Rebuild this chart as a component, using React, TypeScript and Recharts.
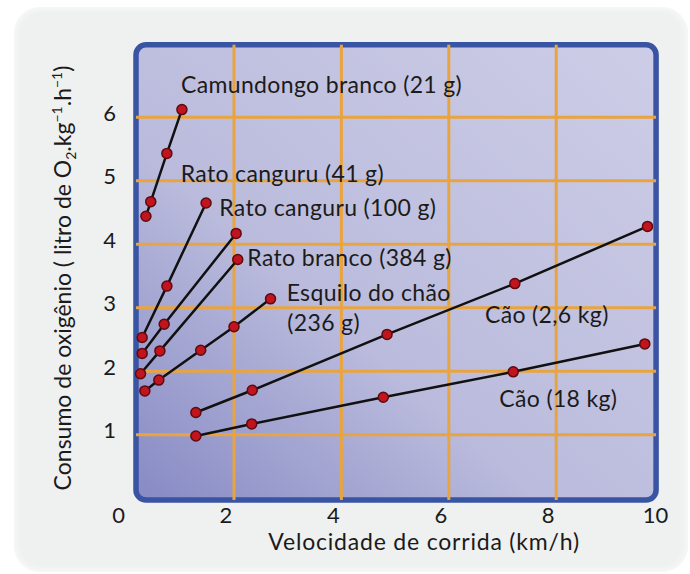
import React from 'react';
import {
  LineChart,
  Line,
  XAxis,
  YAxis,
  ReferenceArea,
  ReferenceLine,
  ReferenceDot,
} from 'recharts';

// velocidade (km/h) e consumo de O2
const camundongoSpeed = [0.36, 0.45, 0.75, 1.03];
const camundongoO2 = [4.44, 4.67, 5.43, 6.12];

const canguru41Speed = [0.29, 0.75, 1.48];
const canguru41O2 = [2.53, 3.34, 4.65];

const canguru100Speed = [0.29, 0.7, 2.04];
const canguru100O2 = [2.28, 2.74, 4.17];

const ratoBrancoSpeed = [0.26, 0.62, 2.07];
const ratoBrancoO2 = [1.96, 2.32, 3.76];

const esquiloSpeed = [0.34, 0.6, 1.38, 2.0, 2.68];
const esquiloO2 = [1.69, 1.86, 2.33, 2.7, 3.14];

const cao26Speed = [1.29, 2.34, 4.85, 7.23, 9.7];
const cao26O2 = [1.35, 1.7, 2.58, 3.38, 4.28];

const cao18Speed = [1.29, 2.33, 4.78, 7.2, 9.65];
const cao18O2 = [0.98, 1.17, 1.59, 1.99, 2.43];

const xTicks = [0, 2, 4, 6, 8, 10];
const yTicks = [1, 2, 3, 4, 5, 6];

const zip = (xs: number[], ys: number[]) => xs.map((x, i) => ({ x, y: ys[i] }));

const series = [
  { key: 'camundongo', data: zip(camundongoSpeed, camundongoO2) },
  { key: 'canguru41', data: zip(canguru41Speed, canguru41O2) },
  { key: 'canguru100', data: zip(canguru100Speed, canguru100O2) },
  { key: 'ratoBranco', data: zip(ratoBrancoSpeed, ratoBrancoO2) },
  { key: 'esquilo', data: zip(esquiloSpeed, esquiloO2) },
  { key: 'cao26', data: zip(cao26Speed, cao26O2) },
  { key: 'cao18', data: zip(cao18Speed, cao18O2) },
];

// rótulos das curvas (x, y = início do texto, na linha de base)
const labels = [
  { text: 'Camundongo branco (21 g)', x: 1.013, y: 6.38 },
  { text: 'Rato canguru (41 g)', x: 1.007, y: 4.98 },
  { text: 'Rato canguru (100 g)', x: 1.726, y: 4.44 },
  { text: 'Rato branco (384 g)', x: 2.248, y: 3.65 },
  { text: 'Esquilo do chão', x: 2.981, y: 3.11 },
  { text: '(236 g)', x: 2.993, y: 2.63 },
  { text: 'Cão (2,6 kg)', x: 6.674, y: 2.76 },
  { text: 'Cão (18 kg)', x: 6.94, y: 1.43 },
];

const FONT = 'Lato, "Open Sans", sans-serif';
const INK = '#1b1b1b';
const GRID = '#e9a43f';
const FRAME = '#3a54a4';

const frameX = [0.175, 9.86];
const frameY = [-0.03, 7.14];

const XTick = ({ x, y, payload }: any) => (
  <text x={x - 8} y={y + 17} textAnchor="middle" fontSize={22} fontFamily={FONT} fill={INK}>
    {payload.value}
  </text>
);

const YTick = ({ x, y, payload }: any) => (
  <text x={x - 2.5} y={y + 3.5} textAnchor="end" fontSize={22} fontFamily={FONT} fill={INK}>
    {payload.value}
  </text>
);

const XTitle = ({ viewBox }: any) => (
  <text
    x={viewBox.x + viewBox.width / 2 + 29}
    y={viewBox.y + viewBox.height + 22}
    textAnchor="middle"
    fontSize={23}
    letterSpacing={0.8}
    fontFamily={FONT}
    fill={INK}
  >
    Velocidade de corrida (km/h)
  </text>
);

const YTitle = ({ viewBox }: any) => {
  const cx = viewBox.x - 16;
  const cy = 278;
  return (
    <text
      transform={`translate(${cx}, ${cy}) rotate(-90)`}
      textAnchor="middle"
      fontSize={23}
      fontFamily={FONT}
      fill={INK}
    >
      Consumo de oxigênio ( litro de O
      <tspan fontSize={14} dy={5}>2</tspan>
      <tspan dy={-5}>.kg</tspan>
      <tspan fontSize={14} dy={-9}>−1</tspan>
      <tspan dy={9}>.h</tspan>
      <tspan fontSize={14} dy={-9}>−1</tspan>
      <tspan dy={9}>)</tspan>
    </text>
  );
};

const FrameFill = ({ x, y, width, height }: any) => (
  <rect x={x} y={y} width={width} height={height} rx={10} ry={10} fill="url(#plotBg)" />
);

const FrameStroke = ({ x, y, width, height }: any) => (
  <rect x={x} y={y} width={width} height={height} rx={10} ry={10} fill="none" stroke={FRAME} strokeWidth={5.5} />
);

const SeriesLabel = ({ text }: { text: string }) => ({ viewBox }: any) => (
  <text x={viewBox.x} y={viewBox.y} fontSize={23} letterSpacing={0.35} fontFamily={FONT} fill={INK}>
    {text}
  </text>
);

export default function App() {
  return (
    <div style={{ position: 'absolute', left: 0, top: 0, width: 690, height: 574, background: '#fff' }}>
      <div
        style={{
          position: 'absolute',
          left: 14,
          top: 7,
          width: 674,
          height: 565,
          borderRadius: 26,
          background: '#eff0f0',
          boxShadow: 'inset 0 0 10px rgba(255,255,255,0.9)',
        }}
      />
      <div style={{ position: 'absolute', left: 0, top: 0 }}>
        <LineChart
          width={690}
          height={574}
          margin={{ top: 44.2, right: 26.4, bottom: 45.8, left: 86.6 }}
        >
          <defs>
            <linearGradient id="plotBg" x1="0" y1="1" x2="1" y2="0">
              <stop offset="0%" stopColor="#878ac4" />
              <stop offset="40%" stopColor="#bbbcdd" />
              <stop offset="100%" stopColor="#cdcde7" />
            </linearGradient>
          </defs>
          <XAxis
            type="number"
            dataKey="x"
            domain={[0, 10]}
            ticks={xTicks}
            height={30}
            axisLine={false}
            tickLine={false}
            tick={<XTick />}
            allowDataOverflow
            label={{ content: XTitle }}
          />
          <YAxis
            type="number"
            dataKey="y"
            domain={[0, 7.15]}
            ticks={yTicks}
            width={40}
            axisLine={false}
            tickLine={false}
            tick={<YTick />}
            allowDataOverflow
            label={{ content: YTitle }}
          />
          <ReferenceArea
            x1={frameX[0]}
            x2={frameX[1]}
            y1={frameY[0]}
            y2={frameY[1]}
            ifOverflow="visible"
            shape={<FrameFill />}
          />
          {yTicks.map((v) => (
            <ReferenceLine
              key={`h${v}`}
              segment={[
                { x: frameX[0], y: v },
                { x: frameX[1], y: v },
              ]}
              stroke={GRID}
              strokeWidth={3}
              ifOverflow="visible"
            />
          ))}
          {xTicks.slice(1, -1).map((v) => (
            <ReferenceLine
              key={`v${v}`}
              segment={[
                { x: v, y: frameY[0] },
                { x: v, y: frameY[1] },
              ]}
              stroke={GRID}
              strokeWidth={3}
              ifOverflow="visible"
            />
          ))}
          <ReferenceArea
            x1={frameX[0]}
            x2={frameX[1]}
            y1={frameY[0]}
            y2={frameY[1]}
            ifOverflow="visible"
            shape={<FrameStroke />}
          />
          {series.map((s) => (
            <Line
              key={s.key}
              data={s.data}
              dataKey="y"
              type="linear"
              stroke="#111"
              strokeWidth={2.5}
              dot={{ r: 5, fill: '#c0141e', stroke: '#5e0a0e', strokeWidth: 1.5 }}
              isAnimationActive={false}
            />
          ))}
          {labels.map((l) => (
            <ReferenceDot
              key={l.text}
              x={l.x}
              y={l.y}
              r={0}
              fill="none"
              stroke="none"
              ifOverflow="visible"
              label={{ content: SeriesLabel({ text: l.text }) }}
            />
          ))}
        </LineChart>
      </div>
    </div>
  );
}
